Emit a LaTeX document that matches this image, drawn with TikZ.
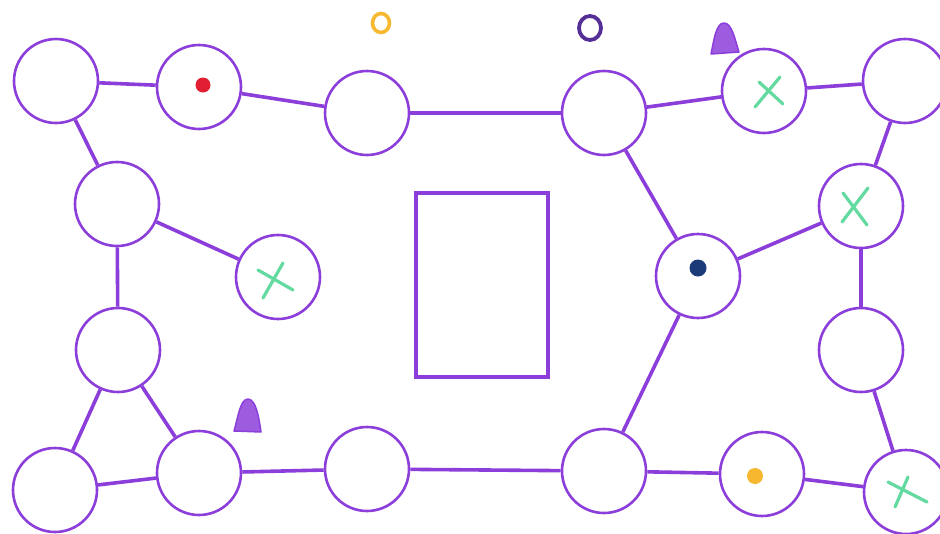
\documentclass[tikz,border=0pt]{standalone}
\definecolor{pur}{RGB}{140,62,218}
\definecolor{grn}{RGB}{98,218,160}
\definecolor{ylw}{RGB}{246,184,46}
\definecolor{dpur}{RGB}{84,48,150}
\definecolor{rd}{RGB}{226,30,50}
\definecolor{nvy}{RGB}{26,58,120}
\tikzset{
  nd/.style={circle,draw=pur,line width=2.6pt,minimum size=84pt,inner sep=0pt,fill=white},
  ed/.style={draw=pur,line width=3.6pt},
  xm/.style={draw=grn,line width=3.2pt,line cap=round},
  cone/.style={draw=pur,fill=pur!85,line width=1.5pt,line join=round},
}
\begin{document}
\begin{tikzpicture}[x=1pt,y=-1pt]
\useasboundingbox (0,0) rectangle (940,533);
% nodes
\node[nd] (a1) at (56,81) {};
\node[nd] (a2) at (199,87) {};
\node[nd] (a3) at (367,113) {};
\node[nd] (a4) at (604,113) {};
\node[nd] (a5) at (764,91) {};
\node[nd] (a6) at (905,81) {};
\node[nd] (b1) at (117,204) {};
\node[nd] (b2) at (278,277) {};
\node[nd] (b3) at (698,276) {};
\node[nd] (b4) at (861,206) {};
\node[nd] (c1) at (118,350) {};
\node[nd] (c2) at (861,350) {};
\node[nd] (d1) at (55,490) {};
\node[nd] (d2) at (199,473) {};
\node[nd] (d3) at (367,469) {};
\node[nd] (d4) at (604,471) {};
\node[nd] (d5) at (762,474) {};
\node[nd] (d6) at (906,492) {};
% edges
\draw[ed] (a1) -- (a2);
\draw[ed] (a2) -- (a3);
\draw[ed] (a3) -- (a4);
\draw[ed] (a4) -- (a5);
\draw[ed] (a5) -- (a6);
\draw[ed] (a1) -- (b1);
\draw[ed] (b1) -- (b2);
\draw[ed] (b1) -- (c1);
\draw[ed] (c1) -- (d1);
\draw[ed] (c1) -- (d2);
\draw[ed] (d1) -- (d2);
\draw[ed] (d2) -- (d3);
\draw[ed] (d3) -- (d4);
\draw[ed] (d4) -- (d5);
\draw[ed] (d5) -- (d6);
\draw[ed] (a4) -- (b3);
\draw[ed] (b3) -- (b4);
\draw[ed] (b3) -- (d4);
\draw[ed] (a6) -- (b4);
\draw[ed] (b4) -- (c2);
\draw[ed] (c2) -- (d6);
% rectangle
\node[draw=pur,line width=3.4pt,minimum width=132pt,minimum height=184pt,inner sep=0pt] (rect) at (482,285) {};
% markers
\fill[rd] (203,85) circle (7.5pt);
\fill[nvy] (698,268) circle (8.5pt);
\fill[ylw] (755,476) circle (8pt);
\draw[xm] (755,107) -- (780,77);
\draw[xm] (759,82) -- (783,104);
\draw[xm] (283,263) -- (263,298);
\draw[xm] (258,270) -- (293,290);
\draw[xm] (868,188) -- (842,222);
\draw[xm] (843,193) -- (867,225);
\draw[xm] (888,482) -- (927,502);
\draw[xm] (908,477) -- (895,507);
% rings
\draw[ylw,line width=3.6pt] (381,23) ellipse (8.5pt and 9.5pt);
\draw[dpur,line width=3.8pt] (590,28) ellipse (11pt and 12pt);
% cones
\draw[cone] (711,54) .. controls (714,40) and (716,23) .. (724,23) .. controls (732,23) and (735,40) .. (739,52) -- cycle;
\draw[cone] (234,431) .. controls (238,418) and (240,399) .. (248,399) .. controls (256,399) and (259,418) .. (261,432) -- cycle;
\end{tikzpicture}
\end{document}
